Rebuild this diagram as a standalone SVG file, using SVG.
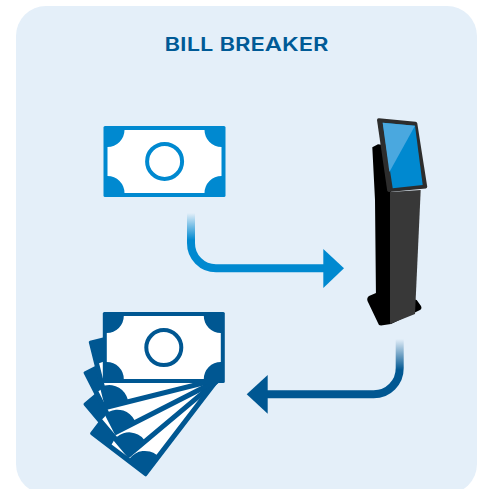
<svg xmlns="http://www.w3.org/2000/svg" width="482" height="489" viewBox="0 0 482 489">
  <style>
    .title { font-family: "Inter", "Liberation Sans", sans-serif; font-size: 19.3px; font-weight: 600; fill: #005a96; }
    .arrow { fill: none; stroke-width: 8; }
  </style>
  <defs>
    <linearGradient id="fadeBlue" gradientUnits="userSpaceOnUse" x1="0" y1="213" x2="0" y2="240">
      <stop offset="0" stop-color="#0089d0" stop-opacity="0"/>
      <stop offset="1" stop-color="#0089d0"/>
    </linearGradient>
    <linearGradient id="fadeDark" gradientUnits="userSpaceOnUse" x1="0" y1="339" x2="0" y2="370">
      <stop offset="0" stop-color="#005792" stop-opacity="0"/>
      <stop offset="1" stop-color="#005792"/>
    </linearGradient>
    <g id="billShape">
      <rect width="122" height="71" rx="1.5" fill="currentColor"/>
      <path d="M21 4H101A17 17 0 0 0 118 21V50A17 17 0 0 0 101 67H21A17 17 0 0 0 4 50V21A17 17 0 0 0 21 4Z" fill="#fff"/>
    </g>
    <g id="fanBill">
      <rect width="122" height="71" rx="1.5" fill="currentColor"/>
      <path d="M24 5H117V66H24A19 19 0 0 0 5 47V24A19 19 0 0 0 24 5Z" fill="#fff"/>
    </g>
  </defs>

  <rect id="panel" x="16" y="6" width="461" height="488" rx="30" fill="#e4eff9"/>
  <text class="title" x="246.5" y="50.7" text-anchor="middle" textLength="164" lengthAdjust="spacingAndGlyphs">BILL BREAKER</text>

  <g id="connectors">
    <path class="arrow" stroke="url(#fadeBlue)" d="M191 213V243A25 25 0 0 0 216 268.3H325"/>
    <polygon points="323.3,249 344,268.3 323.3,288" fill="#0089d0"/>
    <path class="arrow" stroke="url(#fadeDark)" d="M399.7 339V368A26 26 0 0 1 373.7 394.3H266"/>
    <polygon points="267.7,375 246.7,394.3 267.7,413.7" fill="#005792"/>
  </g>

  <g id="bill-single" color="#0089d0">
    <use href="#billShape" transform="translate(103.5,126)"/>
    <circle cx="164.6" cy="161.4" r="17.5" fill="none" stroke="#0089d0" stroke-width="4"/>
  </g>

  <g id="bill-stack" color="#005792">
    <use href="#fanBill" transform="translate(220,380) rotate(-52.6) translate(-122,-71)"/>
    <use href="#fanBill" transform="translate(222,380) rotate(-40) translate(-122,-71)"/>
    <use href="#fanBill" transform="translate(224,380) rotate(-27) translate(-122,-71)"/>
    <use href="#fanBill" transform="translate(224,380.5) rotate(-14) translate(-122,-71)"/>
    <use href="#billShape" transform="translate(102.8,312)"/>
    <circle cx="163.8" cy="347.6" r="17.5" fill="none" stroke="#005792" stroke-width="4"/>
  </g>

  <g id="kiosk">
    <path d="M372.3 147.3L378 144.3L391 146V300H376L375 200Z" fill="#000"/>
    <path d="M369 296L376 293L391 293L416.7 300L421 306Q422.5 309 419 310.5L391 324L381 325.5Q378.5 325.5 378 323L367.5 301Q366.5 298 369 296Z" fill="#000"/>
    <path d="M390 192L420.7 190L415 314L390 324Z" fill="#383838"/>
    <path d="M379 118.2L415.5 121.8Q417 122 417.3 123.5L427.2 186.5Q427.4 188.2 425.8 188.4L389 192Q387.5 192.1 387.2 190.6L377 120Q376.9 118 379 118.2Z" fill="#2d2d2d"/>
    <polygon points="382.7,122.7 415,125.7 422.7,185 392.7,188.3" fill="#0089d0"/>
    <polygon points="382.7,122.7 415,125.7 389.4,172" fill="#4aa8df"/>
  </g>
</svg>
